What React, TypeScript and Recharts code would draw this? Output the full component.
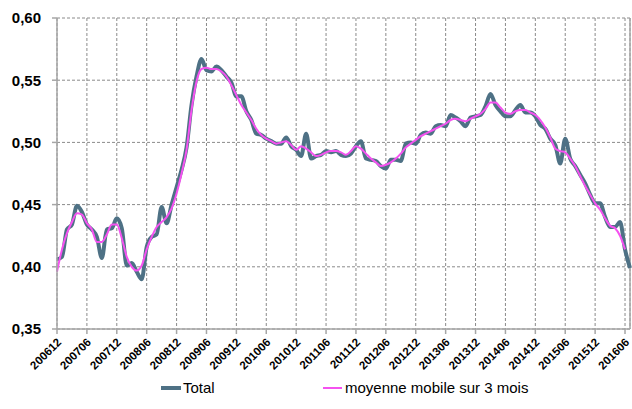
import React from "react";
import {
  CartesianGrid,
  Legend,
  Line,
  LineChart,
  ReferenceLine,
  XAxis,
  YAxis,
} from "recharts";

// monthly series, 200612 .. 201607
const START_YEAR = 2006;
const START_MONTH = 12;

const total = [
  0.406, 0.408, 0.43, 0.434, 0.449, 0.444, 0.434, 0.43, 0.424, 0.407,
  0.43, 0.431, 0.439, 0.431, 0.401, 0.403, 0.396, 0.39, 0.416, 0.424,
  0.426, 0.448, 0.435, 0.45, 0.464, 0.478, 0.496, 0.53, 0.553, 0.567,
  0.558, 0.557, 0.561, 0.558, 0.553, 0.548, 0.537, 0.537, 0.525, 0.518,
  0.507, 0.506, 0.503, 0.501, 0.499, 0.499, 0.504, 0.497, 0.494, 0.489,
  0.507, 0.487, 0.489, 0.49, 0.493, 0.492, 0.493, 0.49, 0.489, 0.491,
  0.497, 0.501, 0.487, 0.486, 0.485, 0.481, 0.479, 0.486, 0.486, 0.485,
  0.499, 0.5, 0.499, 0.506, 0.508, 0.507, 0.513, 0.514, 0.513, 0.522,
  0.52, 0.517, 0.513, 0.52, 0.521, 0.522, 0.529, 0.539, 0.53, 0.525,
  0.521, 0.521, 0.526, 0.53, 0.524, 0.524, 0.521, 0.514, 0.511, 0.503,
  0.498, 0.483, 0.503, 0.487, 0.481, 0.474, 0.467, 0.458, 0.451, 0.451,
  0.44, 0.432, 0.432, 0.436, 0.414, 0.399,
];

const movingAvg = [
  0.396, 0.414, 0.427, 0.436, 0.443, 0.442, 0.435, 0.43, 0.42, 0.42,
  0.426, 0.434, 0.434, 0.423, 0.408, 0.4, 0.397, 0.401, 0.414, 0.424,
  0.432, 0.436, 0.44, 0.447, 0.459, 0.475, 0.494, 0.526, 0.549, 0.559,
  0.56, 0.559, 0.559, 0.557, 0.553, 0.546, 0.538, 0.53, 0.524, 0.518,
  0.511, 0.506, 0.503, 0.501, 0.499, 0.5, 0.501, 0.498, 0.494, 0.497,
  0.495, 0.492, 0.489, 0.49, 0.492, 0.493, 0.493, 0.492, 0.49, 0.493,
  0.497, 0.495, 0.491, 0.487, 0.484, 0.481, 0.482, 0.484, 0.487, 0.491,
  0.496, 0.499, 0.502, 0.505, 0.507, 0.509, 0.511, 0.513, 0.515, 0.518,
  0.519, 0.518, 0.517, 0.519, 0.521, 0.523, 0.527, 0.532, 0.532, 0.528,
  0.524, 0.523, 0.525, 0.526, 0.526, 0.524, 0.522, 0.518, 0.512, 0.504,
  0.495, 0.493, 0.492, 0.487, 0.481, 0.473, 0.465, 0.458, 0.451, 0.446,
  0.439, 0.433, 0.431, 0.425, 0.414, null,
];

const yTicks = [0.35, 0.4, 0.45, 0.5, 0.55, 0.6];

function monthLabel(i: number) {
  const m0 = START_MONTH - 1 + i;
  const y = START_YEAR + Math.floor(m0 / 12);
  const m = (m0 % 12) + 1;
  return `${y}${m < 10 ? "0" : ""}${m}`;
}

const data = total.map((v, i) => ({
  month: monthLabel(i),
  total: v,
  avg: movingAvg[i],
}));

const FONT = "'Liberation Sans', Arial, sans-serif";
const GRAY = "#4E7185";
const PINK = "#F552F0";

function MonthTick(props: any) {
  const { x, y, payload } = props;
  return (
    <g transform={`translate(${x + 5},${y + 7})`}>
      <text
        textAnchor="end"
        transform="rotate(-45)"
        fontSize={11.5}
        fontWeight="bold"
        fontFamily={FONT}
        fill="#000"
      >
        {payload.value}
      </text>
    </g>
  );
}

function ChartLegend() {
  return (
    <div
      style={{
        height: 30,
        position: "relative",
        fontFamily: FONT,
        fontSize: 15,
        lineHeight: "18px",
        color: "#000",
      }}
    >
      <div style={{ position: "absolute", left: 161, top: 0, display: "flex", alignItems: "center" }}>
        <span style={{ display: "inline-block", width: 20, height: 4, background: GRAY, marginRight: 2 }} />
        <span>Total</span>
      </div>
      <div style={{ position: "absolute", left: 323, top: 0, display: "flex", alignItems: "center" }}>
        <span style={{ display: "inline-block", width: 19, height: 2, background: PINK, marginRight: 3 }} />
        <span>moyenne mobile sur 3 mois</span>
      </div>
    </div>
  );
}

export default function App() {
  return (
    <div style={{ position: "absolute", left: 0, top: 0, background: "#fff" }}>
      <LineChart
        width={632}
        height={409}
        data={data}
        margin={{ top: 18, right: 2, left: 0, bottom: 0 }}
      >
        <CartesianGrid stroke="#8a8a8a" strokeDasharray="3 2" />
        <XAxis
          dataKey="month"
          interval={5}
          height={50}
          tick={<MonthTick />}
          tickSize={5}
          stroke="#a6a6a6"
          strokeWidth={1.5}
        />
        <YAxis
          domain={[0.35, 0.6]}
          ticks={yTicks}
          width={57}
          tickSize={5}
          tickMargin={11}
          stroke="#a6a6a6"
          strokeWidth={1.5}
          tick={{ fill: "#000", fontSize: 15, fontWeight: "bold", fontFamily: FONT }}
          tickFormatter={(v: number) => v.toFixed(2).replace(".", ",")}
        />
        <ReferenceLine x={data[data.length - 1].month} stroke="#a6a6a6" strokeWidth={1.5} />
        <Legend verticalAlign="bottom" content={<ChartLegend />} />
        <Line
          type="monotone"
          dataKey="total"
          name="Total"
          stroke={GRAY}
          strokeWidth={4}
          dot={false}
          isAnimationActive={false}
        />
        <Line
          type="monotone"
          dataKey="avg"
          name="moyenne mobile sur 3 mois"
          stroke={PINK}
          strokeWidth={2}
          dot={false}
          isAnimationActive={false}
        />
      </LineChart>
    </div>
  );
}
